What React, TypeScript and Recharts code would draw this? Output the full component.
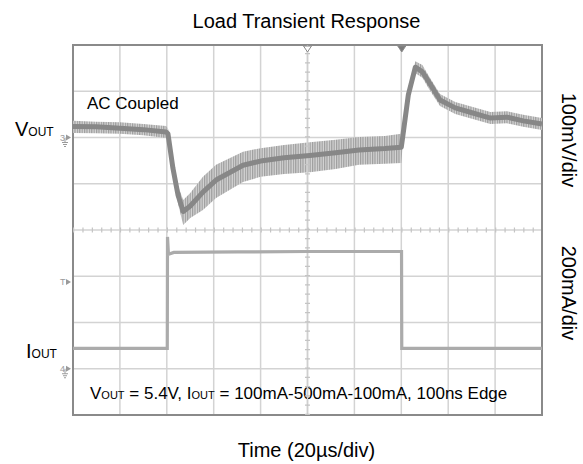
import React from "react";
import {
  ComposedChart,
  Line,
  Area,
  XAxis,
  YAxis,
  CartesianGrid,
  ReferenceLine,
  ReferenceArea,
  ReferenceDot,
} from "recharts";

// time in µs (20µs/div), VOUT in mV (AC coupled, 100mV/div), IOUT in mA (200mA/div)
const voutTime = [0, 9.8, 20, 30, 39.7, 40.5, 42.6, 44.8, 47, 50, 55.4, 61, 72.5, 80, 90, 101, 112, 122, 133, 140, 140.7, 143, 146, 149, 152, 156.5, 163, 170.5, 178, 185, 192, 200];
const voutMid = [24, 23, 20, 17, 12, 8, -66, -125, -160, -148, -118, -92, -60, -51, -44, -39, -33, -27, -24, -21, 5, 92, 152, 142, 118, 81, 64, 53, 42, 44, 36, 29];
const voutHigh = [36, 34, 33, 29, 25, 20, -49, -105, -135, -120, -85, -59, -31, -23, -16, -10, -5, 1, 3, 8, 16, 103, 165, 157, 131, 94, 77, 66, 55, 57, 49, 42];
const voutLow = [10, 9, 8, 5, -1, -3, -79, -144, -189, -174, -157, -131, -96, -85, -79, -75, -68, -59, -57, -55, -10, 81, 139, 129, 103, 68, 51, 40, 29, 31, 23, 16];

const ioutTime = [0, 40.2, 40.3, 40.7, 43, 70, 100, 140.1, 140.2, 200];
const iout = [88, 88, 570, 495, 503, 505, 507, 507, 88, 88];

const timeTicks = [0, 20, 40, 60, 80, 100, 120, 140, 160, 180, 200];
const voutTicks = [-600, -500, -400, -300, -200, -100, 0, 100, 200];

const voutData = voutTime.map((t, i) => ({
  t,
  v: voutMid[i],
  band: [voutLow[i], voutHigh[i]],
}));
const ioutData = ioutTime.map((t, i) => ({ t, i: iout[i] }));

const FONT = "'Liberation Sans', Arial, sans-serif";
const MARK = "#9a9a9a";

const ChannelMark = ({ cx, cy, label, ground }: any) => (
  <g>
    <text x={cx - 13} y={cy + 3} fontSize={9} fill={MARK} fontFamily={FONT}>
      {label}
    </text>
    <path d={`M${cx - 7},${cy - 3} L${cx - 2},${cy} L${cx - 7},${cy + 3} Z`} fill={MARK} />
    {ground && (
      <g stroke={MARK} strokeWidth={1}>
        <line x1={cx - 8} y1={cy} x2={cx - 8} y2={cy + 5} />
        <line x1={cx - 11} y1={cy + 5} x2={cx - 5} y2={cy + 5} />
        <line x1={cx - 10} y1={cy + 7} x2={cx - 6} y2={cy + 7} />
        <line x1={cx - 9} y1={cy + 9} x2={cx - 7} y2={cy + 9} />
      </g>
    )}
  </g>
);

const TopMark = ({ cx, cy, filled }: any) => (
  <path
    d={`M${cx - 4},${cy + 1} L${cx + 4},${cy + 1} L${cx},${cy + 7} Z`}
    fill={filled ? "#7a7a7a" : "#ffffff"}
    stroke="#8a8a8a"
    strokeWidth={1}
  />
);

export default function App() {
  return (
    <div style={{ position: "absolute", left: 0, top: 0, background: "#fff" }}>
      <ComposedChart
        width={583}
        height={464}
        margin={{ top: 45, right: 41, bottom: 49, left: 73 }}
      >
        <defs>
          <pattern id="hatch" width="2.4" height="6" patternUnits="userSpaceOnUse">
            <rect width="2.4" height="6" fill="#d6d6d6" />
            <rect width="1.2" height="6" fill="#9c9c9c" />
          </pattern>
        </defs>
        <XAxis dataKey="t" type="number" domain={[0, 200]} ticks={timeTicks} hide />
        <YAxis yAxisId="v" type="number" domain={[-600, 200]} ticks={voutTicks} hide />
        <YAxis yAxisId="i" type="number" domain={[-200, 1400]} hide />
        <CartesianGrid yAxisId="v" stroke="#d3d3d3" strokeWidth={1.5} />
        <ReferenceLine x={100} yAxisId="v" stroke="#cfcfcf" strokeWidth={1.5} />
        <ReferenceLine x={100} yAxisId="v" stroke="#c4c4c4" strokeWidth={5} strokeDasharray="1.2 8.05" />
        <ReferenceLine y={-200} yAxisId="v" stroke="#c4c4c4" strokeWidth={5} strokeDasharray="1.2 8.18" />
        <ReferenceArea
          x1={0}
          x2={200}
          y1={-600}
          y2={200}
          yAxisId="v"
          fill="none"
          stroke="#8a8a8a"
          strokeWidth={2}
          fillOpacity={0}
        />

        <Line
          data={ioutData}
          yAxisId="i"
          dataKey="i"
          type="linear"
          stroke="#ababab"
          strokeWidth={3.2}
          dot={false}
          isAnimationActive={false}
        />
        <Area
          data={voutData}
          yAxisId="v"
          dataKey="band"
          type="linear"
          stroke="none"
          fill="url(#hatch)"
          fillOpacity={1}
          isAnimationActive={false}
        />
        <Line
          data={voutData}
          yAxisId="v"
          dataKey="v"
          type="linear"
          stroke="#878787"
          strokeWidth={5}
          strokeLinejoin="round"
          dot={false}
          isAnimationActive={false}
        />

        <ReferenceDot x={0} y={0} yAxisId="v" r={0} ifOverflow="visible"
          shape={(p: any) => <ChannelMark {...p} label="3" ground />} />
        <ReferenceDot x={0} y={375} yAxisId="i" r={0} ifOverflow="visible"
          shape={(p: any) => <ChannelMark {...p} label="T" />} />
        <ReferenceDot x={0} y={0} yAxisId="i" r={0} ifOverflow="visible"
          shape={(p: any) => <ChannelMark {...p} label="4" ground />} />
        <ReferenceDot x={100} y={200} yAxisId="v" r={0} ifOverflow="visible"
          shape={(p: any) => <TopMark {...p} />} />
        <ReferenceDot x={140.2} y={200} yAxisId="v" r={0} ifOverflow="visible"
          shape={(p: any) => <TopMark {...p} filled />} />

        <text x={306.5} y={28} textAnchor="middle" fontSize={20} fontFamily={FONT} fill="#000">
          Load Transient Response
        </text>
        <text x={87} y={109} fontSize={17} fontFamily={FONT} fill="#000">
          AC Coupled
        </text>
        <text x={15} y={136} fontSize={20} fontFamily={FONT} fill="#000">
          V<tspan fontSize={12}>OUT</tspan>
        </text>
        <text x={26} y={358} fontSize={20} fontFamily={FONT} fill="#000">
          I<tspan fontSize={12}>OUT</tspan>
        </text>
        <text x={90} y={399} fontSize={17} fontFamily={FONT} fill="#000">
          V<tspan fontSize={11}>OUT</tspan>
          <tspan> = 5.4V, I</tspan>
          <tspan fontSize={11}>OUT</tspan>
          <tspan> = 100mA-500mA-100mA, 100ns Edge</tspan>
        </text>
        <text x={306.5} y={457} textAnchor="middle" fontSize={20} fontFamily={FONT} fill="#000">
          Time (20µs/div)
        </text>
        <text x={562} y={140} textAnchor="middle" fontSize={20} fontFamily={FONT} fill="#000"
          transform="rotate(90 562 140)">
          100mV/div
        </text>
        <text x={562} y={293} textAnchor="middle" fontSize={20} fontFamily={FONT} fill="#000"
          transform="rotate(90 562 293)">
          200mA/div
        </text>
      </ComposedChart>
    </div>
  );
}
